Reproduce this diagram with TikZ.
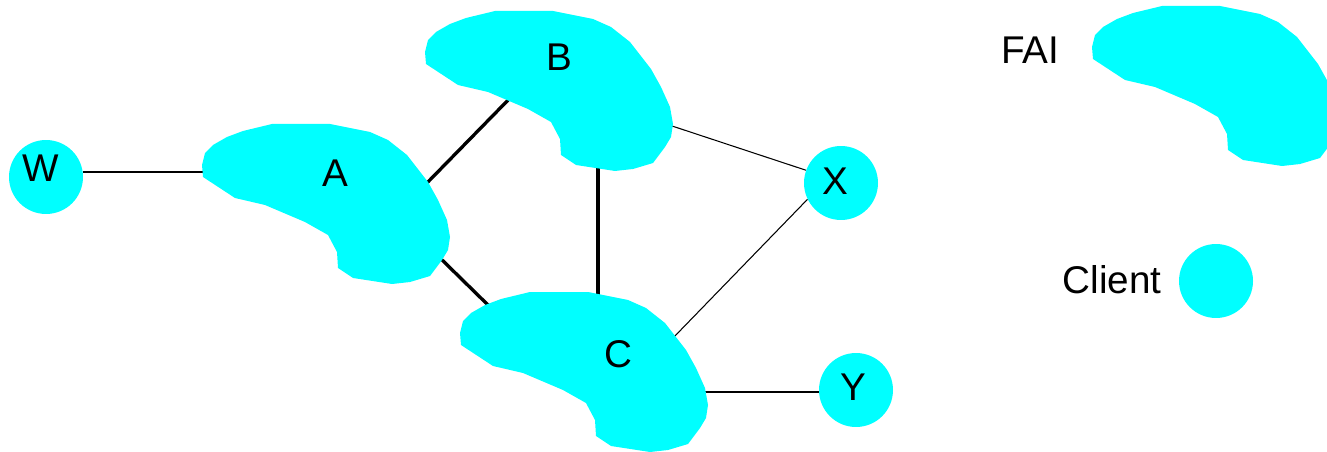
\documentclass[tikz,border=0pt]{standalone}
\usepackage{fontspec}
\setmainfont{Liberation Sans}
\usepackage{xcolor}
\usetikzlibrary{calc}
\definecolor{ispcyan}{RGB}{0,255,255}
\pgfdeclarelayer{bg}
\pgfsetlayers{bg,main}

\tikzset{
  isp/.pic={
    \fill[ispcyan] (1,53) -- (0,41) -- (3,29) -- (11,21) -- (25,13) -- (41,7)
      -- (70,0) -- (128,0) -- (168,8) -- (186,16) -- (205,31) -- (226,58)
      -- (236,76) -- (245,96) -- (248,113) -- (246,126) -- (240,136)
      -- (228,152) -- (208,158) -- (190,160) -- (151,154) -- (136,144)
      -- (135,128) -- (126,111) -- (103,98) -- (63,81) -- (33,74) -- cycle;
    % ports for the links
    \coordinate (-w)   at (3,48);
    \coordinate (-ne)  at (222,62);
    \coordinate (-se)  at (234,130);
    \coordinate (-sw)  at (89,83);
    \coordinate (-s)   at (173,154);
    \coordinate (-e)   at (244,114);
    \coordinate (-nw)  at (28,13);
    \coordinate (-n)   at (138,5);
    \coordinate (-ene) at (213,46);
    \coordinate (-ese) at (242,100);
  }
}

\begin{document}
\begin{tikzpicture}[
  x=0.02cm, y=-0.02cm,
  every node/.style={font=\fontsize{22}{26}\selectfont},
  lbl/.style    = {inner sep=0pt},
  client/.style = {circle, fill=ispcyan, inner sep=0pt, minimum size=1.48cm},
  bone/.style   = {line width=1.9pt},
  leaf/.style   = {line width=0.6pt}
]
\useasboundingbox (0,0) rectangle (1327,452);

%% ===== ISP clouds =====
\pic (A) at (202,124) {isp};
\pic (B) at (425,11)  {isp};
\pic (C) at (460,292) {isp};
\node[lbl] (Albl) at (335,173)   {A};
\node[lbl] (Blbl) at (559,57.5)  {B};
\node[lbl] (Clbl) at (618,354.5) {C};

%% ===== clients =====
\node[client] (W) at (46,177)  {};
\node[client] (X) at (841,183) {};
\node[client] (Y) at (856,390) {};
\node[lbl] (Wlbl) at (41,168.5) {W};
\node[lbl] (Xlbl) at (835,181)  {X};
\node[lbl] (Ylbl) at (853,387.5) {Y};

%% ===== legend =====
\pic (leg) at (1092,6) {isp};
\node[lbl] (fai) at (1030,50) {FAI};
\node[client] (cl) at (1216,281) {};
\node[lbl] (cllbl) at (1112,280) {Client};

%% ===== links =====
\begin{pgfonlayer}{bg}
\draw[bone] (A-ne) -- (B-sw);
\draw[bone] (A-se) -- (C-nw);
\draw[bone] (B-s) -- (C-n);
\draw[leaf] (A-w) -- (A-w -| W.east);
\draw[leaf] (B-e) -- (X.160);
\draw[leaf] (C-ene) -- (X.206);
\draw[leaf] (C-ese) -- (C-ese -| Y.west);
\end{pgfonlayer}

\end{tikzpicture}
\end{document}
